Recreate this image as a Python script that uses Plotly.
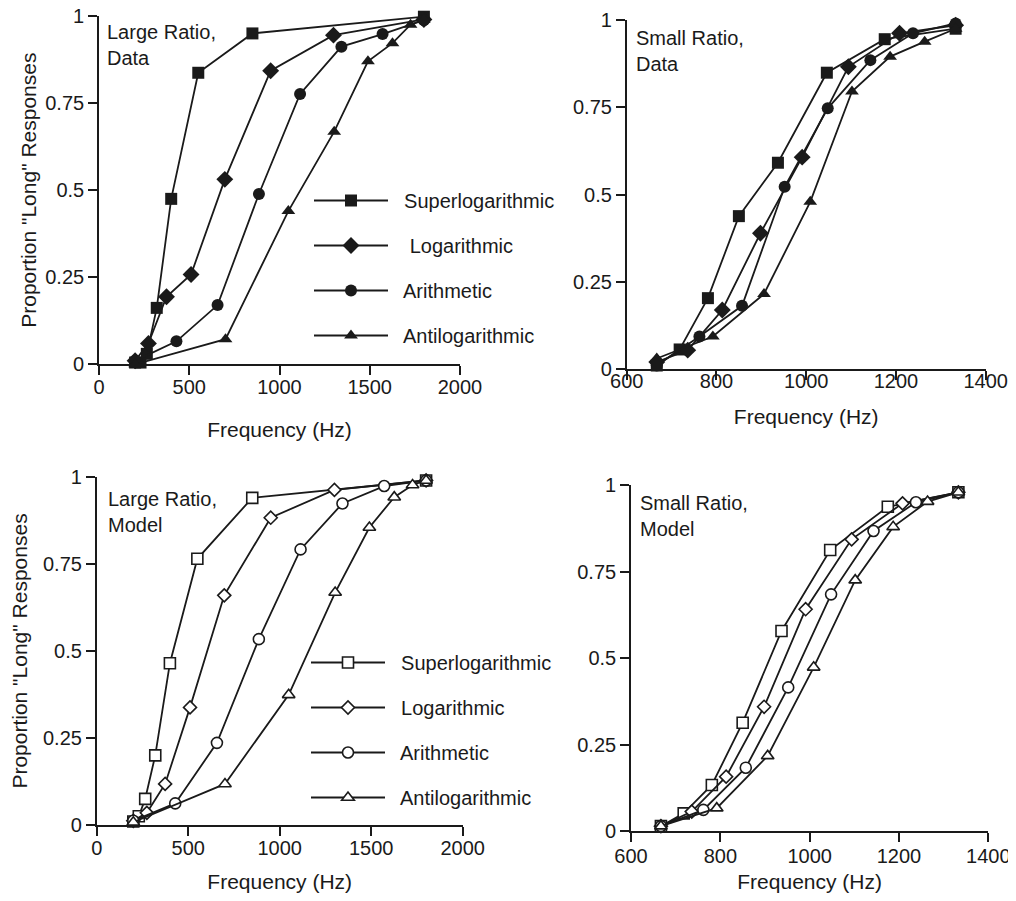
import plotly.graph_objects as go

# frequencies (Hz) of the 8 stimuli in each spacing condition
large_super_hz = [200, 230, 265, 320, 400, 550, 850, 1800]
large_log_hz = [200, 274, 374, 510, 697, 951, 1299, 1800]
large_arith_hz = [200, 429, 657, 886, 1114, 1343, 1571, 1800]
large_anti_hz = [200, 701, 1049, 1303, 1490, 1626, 1726, 1800]

small_super_hz = [667, 718, 781, 850, 937, 1046, 1175, 1333]
small_log_hz = [667, 736, 813, 898, 991, 1094, 1208, 1333]
small_arith_hz = [667, 762, 857, 952, 1048, 1143, 1238, 1333]
small_anti_hz = [667, 792, 906, 1009, 1102, 1187, 1264, 1333]

# proportion "long" responses - data
large_super_data = [0.005, 0.005, 0.03, 0.162, 0.475, 0.837, 0.95, 0.998]
large_log_data = [0.01, 0.06, 0.194, 0.258, 0.531, 0.843, 0.945, 0.99]
large_arith_data = [0.01, 0.066, 0.17, 0.489, 0.776, 0.912, 0.948, 0.988]
large_anti_data = [0.0, 0.072, 0.44, 0.668, 0.87, 0.922, 0.975, 0.99]

small_super_data = [0.01, 0.056, 0.203, 0.438, 0.591, 0.849, 0.945, 0.975]
small_log_data = [0.02, 0.054, 0.169, 0.389, 0.607, 0.866, 0.962, 0.985]
small_arith_data = [0.01, 0.093, 0.181, 0.522, 0.747, 0.885, 0.962, 0.99]
small_anti_data = [0.03, 0.093, 0.215, 0.479, 0.795, 0.895, 0.938, 0.975]

# proportion "long" responses - model
large_super_model = [0.01, 0.025, 0.075, 0.2, 0.465, 0.765, 0.94, 0.99]
large_log_model = [0.012, 0.035, 0.118, 0.338, 0.66, 0.883, 0.963, 0.99]
large_arith_model = [0.012, 0.062, 0.236, 0.534, 0.792, 0.924, 0.974, 0.99]
large_anti_model = [0.008, 0.118, 0.374, 0.668, 0.855, 0.942, 0.977, 0.99]

small_super_model = [0.014, 0.051, 0.133, 0.313, 0.578, 0.812, 0.937, 0.979]
small_log_model = [0.014, 0.056, 0.157, 0.359, 0.641, 0.843, 0.947, 0.979]
small_arith_model = [0.014, 0.061, 0.183, 0.415, 0.684, 0.867, 0.95, 0.979]
small_anti_model = [0.014, 0.066, 0.217, 0.473, 0.725, 0.879, 0.952, 0.979]

names = ["  Superlogarithmic", "   Logarithmic", "  Arithmetic", "  Antilogarithmic"]
model_names = ["  Superlogarithmic", "  Logarithmic", "  Arithmetic", "  Antilogarithmic"]
symbols = ["square", "diamond", "circle", "triangle-up"]
sizes = [12, 13, 12, 12]
open_sizes = [11, 10, 11, 11]

FONT = "Liberation Sans, Arial, Helvetica, sans-serif"
INK = "#1a1a1a"

fig = go.Figure()

panels = [
    # (xaxis, yaxis, hz lists, y lists, filled, legend, names)
    ("x", "y", [large_super_hz, large_log_hz, large_arith_hz, large_anti_hz],
     [large_super_data, large_log_data, large_arith_data, large_anti_data], True, "legend", names),
    ("x2", "y2", [small_super_hz, small_log_hz, small_arith_hz, small_anti_hz],
     [small_super_data, small_log_data, small_arith_data, small_anti_data], True, None, names),
    ("x3", "y3", [large_super_hz, large_log_hz, large_arith_hz, large_anti_hz],
     [large_super_model, large_log_model, large_arith_model, large_anti_model], False, "legend2", model_names),
    ("x4", "y4", [small_super_hz, small_log_hz, small_arith_hz, small_anti_hz],
     [small_super_model, small_log_model, small_arith_model, small_anti_model], False, None, model_names),
]

for xa, ya, xs, ys, filled, leg, nm in panels:
    for i in range(4):
        if filled:
            marker = dict(symbol=symbols[i], size=sizes[i], color=INK, line=dict(width=0))
        else:
            marker = dict(symbol=symbols[i], size=open_sizes[i], color="white",
                          line=dict(width=1.6, color=INK))
        fig.add_trace(go.Scatter(
            x=xs[i], y=ys[i], mode="lines+markers", name=nm[i],
            xaxis=xa, yaxis=ya, line=dict(color=INK, width=1.8),
            marker=marker, cliponaxis=False,
            showlegend=leg is not None, legend=leg if leg else "legend",
            legendgroup=(leg or "n") + str(i),
        ))

# page has an 8px body margin, so the figure is 16px smaller than the window
W, H = 1000, 885
OFF = 8
# plot areas in window pixels: left, right, top, bottom
boxes = [(99, 460, 16, 364.3), (626.7, 985.7, 20, 369),
         (96.7, 462.7, 477, 825), (631, 988.3, 485, 831)]
xranges = [[0, 2000], [600, 1400], [0, 2000], [600, 1400]]
xticks_large = [0, 500, 1000, 1500, 2000]
xticks_small = [600, 800, 1000, 1200, 1400]
xticks = [xticks_large, xticks_small, xticks_large, xticks_small]
xlab_shift = [-5, -16, -5, -3]
xtitle_standoff = [25, 19, 28, 15]
ytitle_standoff = [3, 0, 18, 0]

axis_common = dict(showline=True, linecolor=INK, linewidth=1.6, ticks="outside",
                   tickcolor=INK, tickwidth=1.6, ticklen=9, showgrid=False,
                   zeroline=False, automargin=False, ticklabeloverflow="allow",
                   tickfont=dict(family=FONT, size=20, color=INK))

layout = {}
for k, (l, r, t, b) in enumerate(boxes):
    sfx = "" if k == 0 else str(k + 1)
    l, r, t, b = l - OFF, r - OFF, t - OFF, b - OFF
    layout["xaxis" + sfx] = dict(
        axis_common, domain=[l / W, r / W], range=xranges[k], tickvals=xticks[k],
        anchor="y" + sfx, ticklabelstandoff=xlab_shift[k],
        title=dict(text="Frequency (Hz)", font=dict(family=FONT, size=21, color=INK),
                   standoff=xtitle_standoff[k]),
    )
    layout["yaxis" + sfx] = dict(
        axis_common, domain=[1 - b / H, 1 - t / H], range=[0, 1],
        tickvals=[0, 0.25, 0.5, 0.75, 1], ticktext=["0", "0.25", "0.5", "0.75", "1"],
        anchor="x" + sfx,
        title=dict(text='Proportion "Long" Responses' if k in (0, 2) else "",
                   font=dict(family=FONT, size=21, color=INK),
                   standoff=ytitle_standoff[k]),
    )

fig.update_layout(**layout)

labels = ["Large Ratio,<br>Data", "Small Ratio,<br>Data", "Large Ratio,<br>Model", "Small Ratio,<br>Model"]
lab_pos = [(0.018, 0.99), (0.021, 0.985), (0.026, 0.975), (0.02, 0.985)]
for k in range(4):
    sfx = "" if k == 0 else str(k + 1)
    fig.add_annotation(text=labels[k], xref="x" + sfx + " domain", yref="y" + sfx + " domain",
                       x=lab_pos[k][0], y=lab_pos[k][1], xanchor="left", yanchor="top",
                       align="left", showarrow=False,
                       font=dict(family=FONT, size=20, color=INK))

legend_common = dict(font=dict(family=FONT, size=20, color=INK), bgcolor="rgba(0,0,0,0)",
                     traceorder="grouped", tracegroupgap=16, itemwidth=74,
                     xanchor="left", yanchor="top")
fig.update_layout(
    width=W, height=H, margin=dict(l=0, r=0, t=0, b=0),
    paper_bgcolor="white", plot_bgcolor="white",
    legend=dict(legend_common, x=301 / W, y=1 - 173 / H),
    legend2=dict(legend_common, x=298 / W, y=1 - 635 / H),
)

fig.write_html("out.html")
